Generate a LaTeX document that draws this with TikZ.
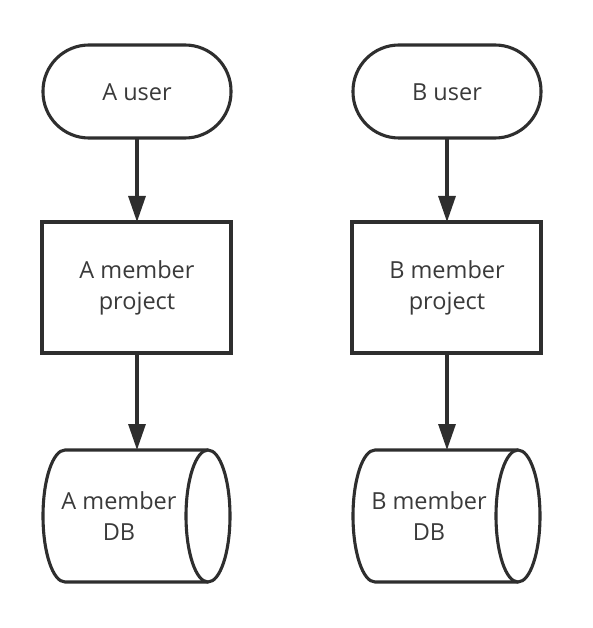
\documentclass[tikz,border=0pt]{standalone}
\usepackage{fontspec}
\setmainfont{Open Sans}
\usetikzlibrary{arrows.meta}
\definecolor{ink}{HTML}{2E2E2E}
\definecolor{txt}{HTML}{3A3A3A}
\tikzset{
  shp/.style={draw=ink, line width=3.1pt, fill=white},
  lbl/.style={text=txt, font=\fontsize{23.5}{31}\selectfont, align=center},
  conn/.style={draw=ink, line width=3.1pt, -{Triangle[length=26pt,width=17pt]}},
}
\begin{document}
\begin{tikzpicture}[x=1pt,y=-1pt]
\useasboundingbox (0,0) rectangle (593,628);
\foreach \dx/\L in {0/A,310/B}{
  \begin{scope}[xshift=\dx pt]
  % stadium
  \draw[shp, rounded corners=46pt] (43,45) rectangle (231,138);
  \node[lbl] (u\L) at (137,92) {\L\ user};
  \coordinate (ub\L) at (137,138);
  % rectangle
  \draw[shp] (42,222) rectangle (231,353);
  \node[lbl] (p\L) at (137,288) {\L\ member\\project};
  \coordinate (pt\L) at (137,222);
  \coordinate (pb\L) at (137,353);
  % cylinder
  \draw[shp] (208,450) -- (65,450) arc[start angle=270,end angle=90,x radius=22,y radius=66] -- (208,582);
  \draw[shp] (208,516) ellipse[x radius=22,y radius=66];
  \node[lbl] (d\L) at (119,516) {\L\ member\\DB};
  \coordinate (dt\L) at (137,450);
  \draw[conn] (ub\L) -- (pt\L);
  \draw[conn] (pb\L) -- (dt\L);
  \end{scope}
}
\end{tikzpicture}
\end{document}
